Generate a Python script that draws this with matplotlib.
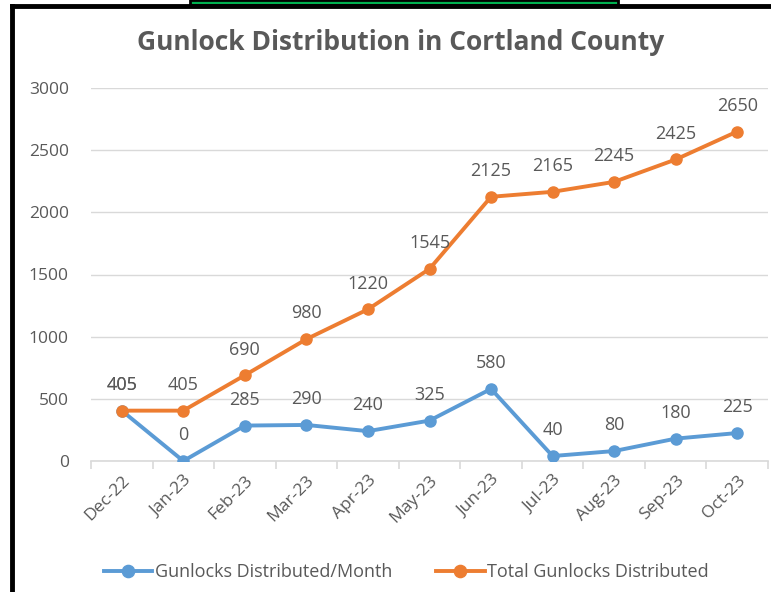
import matplotlib
matplotlib.use("Agg")
from matplotlib import pyplot as plt
from matplotlib.lines import Line2D
from matplotlib.patches import Rectangle
import numpy as np

months = ["Dec-22", "Jan-23", "Feb-23", "Mar-23", "Apr-23", "May-23",
          "Jun-23", "Jul-23", "Aug-23", "Sep-23", "Oct-23"]
per_month = [405, 0, 285, 290, 240, 325, 580, 40, 80, 180, 225]
total = [405, 405, 690, 980, 1220, 1545, 2125, 2165, 2245, 2425, 2650]

blue = "#5B9BD5"
orange = "#ED7D31"
gray = "#595959"

plt.rcParams["font.family"] = ["Open Sans", "DejaVu Sans"]

fig = plt.figure(figsize=(7.71, 5.92), dpi=100)
ax = fig.add_axes([91 / 771, 1 - 461 / 592, (768 - 91) / 771, (461 - 88) / 592])

x = np.arange(len(months))
ax.plot(x, per_month, color=blue, lw=2.8, marker="o", ms=8, label="Gunlocks Distributed/Month", zorder=3)
ax.plot(x, total, color=orange, lw=2.8, marker="o", ms=8, label="Total Gunlocks Distributed", zorder=3)

for xi, v in zip(x, per_month):
    ax.annotate(str(v), (xi, v), xytext=(0, 12), textcoords="offset points",
                ha="center", va="bottom", color=gray, fontsize=13)
for xi, v in zip(x, total):
    ax.annotate(str(v), (xi, v), xytext=(0, 12), textcoords="offset points",
                ha="center", va="bottom", color=gray, fontsize=13)

ax.set_xlim(-0.5, len(months) - 0.5)
ax.set_ylim(0, 3000)
ax.set_yticks(range(0, 3001, 500))
ax.grid(axis="y", color="#d9d9d9", lw=1)
ax.set_axisbelow(True)
for s in ["top", "right", "left"]:
    ax.spines[s].set_visible(False)
ax.spines["bottom"].set_color("#d9d9d9")
ax.spines["bottom"].set_linewidth(1.2)

ax.set_xticks(x)
ax.set_xticklabels(months, rotation=45, ha="right", rotation_mode="anchor")
ax.set_xticks(np.arange(-0.5, len(months)), minor=True)
ax.tick_params(axis="x", which="major", length=0, pad=8, labelsize=12.5, labelcolor=gray)
ax.tick_params(axis="x", which="minor", length=6, color="#d9d9d9", width=1.2)
ax.tick_params(axis="y", length=0, pad=16, labelsize=12.5, labelcolor=gray)

fig.text(0.52, 1 - 42 / 592, "Gunlock Distribution in Cortland County", ha="center", va="center",
         fontsize=19, fontweight="bold", color=gray)

fig.legend(loc="center", bbox_to_anchor=(0.527, 1 - 572 / 592), ncol=2, frameon=False,
           fontsize=13, labelcolor=gray, handlelength=2.7, handletextpad=0.15,
           columnspacing=2.4, markerscale=1.1)

# frame around the chart
fig.add_artist(Line2D([12 / 771, 12 / 771], [0, 1 - 6 / 592], color="black", lw=3.5))
fig.add_artist(Line2D([12 / 771, 1], [1 - 6 / 592, 1 - 6 / 592], color="black", lw=3.5))
fig.add_artist(Rectangle((190 / 771, 1 - 5 / 592), (618 - 190) / 771, 5 / 592,
                         facecolor="#00B050", edgecolor="black", lw=2))

fig.savefig("out.png", dpi=100)
